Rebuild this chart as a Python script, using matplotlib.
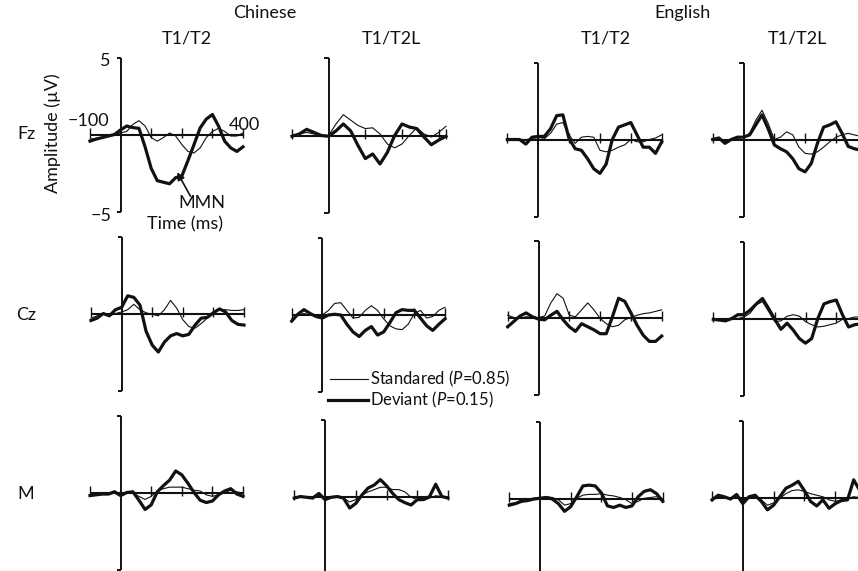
import matplotlib
matplotlib.use('Agg')
import matplotlib.pyplot as plt
from matplotlib.lines import Line2D

W, H = 858, 571
plt.rcParams['font.family'] = ['Lato', 'DejaVu Sans']
plt.rcParams['mathtext.fontset'] = 'custom'
plt.rcParams['mathtext.rm'] = 'Lato'
plt.rcParams['mathtext.it'] = 'Lato:italic'

# ---------------- data (ms, µV) ----------------
times = [-100, -80, -60, -40, -20, 0, 20, 40, 60, 80, 100, 120, 140, 160,
         180, 200, 220, 240, 260, 280, 300, 320, 340, 360, 380, 400]
times_short = [-100, -80, -60, -40, -20, 0, 20, 40, 60, 80, 100, 120, 140,
               160, 180, 200, 220, 240, 260, 280, 300, 320]

fz_cn_t1t2_std = [-0.3, -0.25, -0.2, -0.1, 0, 0.1, 0.2, 0.65, 0.9, 0.55, -0.2, -0.43, -0.2,
                  0.1, -0.1, -0.65, -1.1, -1.2, -0.87, -0.2, 0.2, 0.4, 0.2, -0.1, -0.1, 0.1]
fz_cn_t1t2_dev = [-0.43, -0.3, -0.2, -0.1, 0, 0.3, 0.55, 0.45, 0.4, -0.8, -2.2, -3.0, -3.1,
                  -3.2, -2.8, -2.7, -1.7, -0.65, 0.43, 1.0, 1.3, 0.55, -0.43, -0.87, -1.1, -0.8]
fz_cn_t1t2l_std = [0, 0.1, 0.2, 0.1, 0, 0, 0.75, 1.35, 1.0, 0.65, 0.45, 0.5, 0.1, -0.55,
                   -0.8, -0.55, 0, 0.5, 0.1, -0.1, 0.2, 0.6]
fz_cn_t1t2l_dev = [-0.05, 0.1, 0.4, 0.2, 0, -0.05, 0.3, 0.75, 0.3, -0.65, -1.5, -1.2, -1.85,
                   -1.1, 0, 0.75, 0.55, 0.45, -0.1, -0.6, -0.3, -0.05]
fz_en_t1t2_std = [0.05, 0, 0, 0, 0.05, 0, 0.05, 0.4, 1.0, 1.1, 0.3, -0.25, 0.15, 0.2, 0.15,
                  -0.7, -0.8, -0.7, -0.5, -0.35, 0, -0.15, -0.15, 0, 0.1, 0.3]
fz_en_t1t2_dev = [0, 0, 0, -0.3, 0.15, 0.2, 0.2, 0.7, 1.55, 1.6, 0.05, -0.6, -0.7, -1.25,
                  -1.9, -2.2, -1.6, 0, 0.8, 0.95, 1.1, 0.3, -0.5, -0.5, -0.9, -0.15]
fz_en_t1t2l_std = [0, 0.05, -0.15, 0, 0.1, 0.15, 0.4, 1.25, 1.9, 1.05, 0, 0.15, 0.5, 0.3,
                   -0.5, -0.9, -0.95, -0.8, -0.5, -0.15, 0.15, 0.3, 0.4, 0.3, 0.2, 0.1]
fz_en_t1t2l_dev = [0, 0.1, -0.25, 0, 0.15, 0.15, 0.3, 0.95, 1.6, 0.7, -0.35, -0.6, -0.8,
                   -1.25, -1.9, -2.1, -1.55, -0.25, 0.8, 0.95, 1.15, 0.4, -0.45, -0.6, -0.7, -0.3]

cz_cn_t1t2_std = [-0.25, -0.1, 0, -0.1, 0.05, 0.15, 0.3, 0.65, 0.3, 0.1, 0, -0.1, 0.3, 0.9,
                  0.4, -0.35, -0.8, -0.9, -0.6, -0.25, 0.15, 0.3, 0.3, 0.25, 0.25, 0.3]
cz_cn_t1t2_dev = [-0.4, -0.25, 0.05, -0.1, 0.3, 0.45, 1.2, 1.1, 0.6, -1.1, -2.0, -2.45, -1.8,
                  -1.4, -1.25, -1.4, -1.3, -0.7, -0.25, -0.2, 0.1, 0.35, 0.15, -0.4, -0.65, -0.7]
cz_cn_t1t2l_std = [-0.25, 0, 0.1, 0, 0, 0, 0.3, 0.75, 0.8, 0.3, -0.2, -0.15, 0.3, 0.6, 0.3,
                   -0.25, -0.7, -0.9, -0.95, -0.6, 0.1, 0.3, -0.2, -0.1, 0.3, 0.5]
cz_cn_t1t2l_dev = [-0.4, 0.05, 0.35, 0.1, -0.1, -0.2, 0, 0.05, 0, -0.6, -1.1, -1.4, -1.0,
                   -0.75, -1.3, -1.1, -0.5, 0.15, 0.35, 0.3, 0.3, -0.2, -0.7, -1.0, -0.6, -0.25]
cz_en_t1t2_std = [0.2, 0.05, 0, 0.1, 0.05, 0.05, 0.15, 1.0, 1.6, 1.3, 0.2, 0.1, 0.55, 1.0,
                  0.55, 0, -0.35, -0.55, -0.45, -0.1, 0.05, 0.2, 0.3, 0.35, 0.45, 0.55]
cz_en_t1t2_dev = [-0.55, -0.2, 0.15, 0.35, 0.1, -0.05, -0.1, 0.2, 0.45, -0.1, -0.55, -0.85,
                  -0.35, -0.55, -0.75, -1.0, -1.0, 0.1, 1.3, 1.1, 0.35, -0.45, -1.1, -1.5, -1.5, -1.15]
cz_en_t1t2l_std = [-0.1, 0, 0, 0.05, 0.05, 0.15, 0.4, 0.95, 1.15, 0.5, -0.15, -0.1, 0.2, 0.3,
                   0.2, -0.15, -0.35, -0.5, -0.45, -0.35, -0.25, 0, 0.05, 0.15, 0.15, 0.1]
cz_en_t1t2l_dev = [0, -0.05, -0.1, 0.05, 0.3, 0.3, 0.6, 1.0, 1.35, 0.7, 0, -0.65, -0.25, -0.7,
                   -1.25, -1.55, -1.25, 0.05, 1.0, 1.15, 1.25, 0.3, -0.5, -0.35, -0.3, -0.2]

m_cn_t1t2_std = [-0.1, -0.1, -0.05, -0.05, 0, -0.1, 0.05, 0, -0.2, -0.4, -0.2, 0.15, 0.3, 0.4,
                 0.4, 0.4, 0.3, 0.2, 0.15, -0.1, -0.2, -0.1, 0.05, 0.2, 0.1, 0]
m_cn_t1t2_dev = [-0.15, -0.1, -0.05, -0.05, 0.1, -0.15, 0.05, 0.1, -0.45, -1.05, -0.75, 0.1,
                 0.5, 0.85, 1.45, 1.2, 0.65, 0.05, -0.45, -0.6, -0.5, -0.1, 0.15, 0.3, -0.05, -0.2]
m_cn_t1t2l_std = [-0.05, 0, 0.05, 0.05, 0.1, -0.05, 0.05, 0.05, -0.05, -0.3, -0.15, 0.15, 0.35,
                  0.5, 0.65, 0.65, 0.5, 0.5, 0.35, 0, -0.15, -0.2, -0.05, 0.1, 0.05, 0]
m_cn_t1t2l_dev = [-0.05, 0.05, 0, -0.05, 0.25, -0.15, 0, 0.05, -0.05, -0.7, -0.4, 0.15, 0.6,
                  0.8, 1.15, 0.75, 0.25, -0.15, -0.35, -0.5, -0.15, -0.15, 0.05, 0.85, 0.05, -0.05]
m_en_t1t2_std = [-0.3, -0.25, -0.05, 0, 0.05, 0.05, 0.15, 0.1, -0.05, -0.4, -0.3, 0.05, 0.25,
                 0.3, 0.3, 0.35, 0.25, 0.2, 0.1, -0.05, -0.3, -0.15, 0.05, 0.1, 0.15, 0]
m_en_t1t2_dev = [-0.4, -0.3, -0.15, -0.1, 0, 0.05, 0.1, 0, -0.3, -0.8, -0.5, 0.15, 0.85, 0.9,
                 0.85, 0.4, -0.45, -0.55, -0.4, -0.55, -0.45, 0.15, 0.5, 0.6, 0.35, -0.15]
m_en_t1t2l_std = [-0.05, 0, 0, 0, 0.05, -0.1, 0, 0.05, -0.1, -0.45, -0.3, 0, 0.3, 0.5, 0.55,
                  0.45, 0.3, 0.2, 0.1, -0.1, -0.2, -0.1, 0, 0.1, 0.05, 0]
m_en_t1t2l_dev = [-0.1, 0.2, 0.1, -0.05, 0.25, -0.35, 0.1, 0.2, -0.2, -0.75, -0.45, 0.1, 0.65,
                  0.85, 1.1, 0.5, -0.2, -0.5, -0.1, -0.65, -0.35, -0.15, -0.1, 1.2, 0.5, 0]

languages = ['Chinese', 'English']
conditions = ['T1/T2', 'T1/T2L', 'T1/T2', 'T1/T2L']
electrodes = ['Fz', 'Cz', 'M']
tick_times = [-100, 100, 200, 300]

# ---------------- layout (pixel positions) ----------------
HALF = 77  # pixels from 0 µV to ±5 µV
panels = [
    # times, standard, deviant, left px, right px, zero-line px
    (times, fz_cn_t1t2_std, fz_cn_t1t2_dev, 90, 243, 134.5),
    (times_short, fz_cn_t1t2l_std, fz_cn_t1t2l_dev, 292, 446, 135.5),
    (times, fz_en_t1t2_std, fz_en_t1t2_dev, 507.3, 661.7, 139.5),
    (times, fz_en_t1t2l_std, fz_en_t1t2l_dev, 712.7, 866.7, 139.5),
    (times, cz_cn_t1t2_std, cz_cn_t1t2_dev, 91, 244, 314.3),
    (times, cz_cn_t1t2l_std, cz_cn_t1t2l_dev, 291.7, 445, 315),
    (times, cz_en_t1t2_std, cz_en_t1t2_dev, 507.7, 661.7, 318.3),
    (times, cz_en_t1t2l_std, cz_en_t1t2l_dev, 713.3, 867, 319.3),
    (times, m_cn_t1t2_std, m_cn_t1t2_dev, 90, 243, 493.3),
    (times, m_cn_t1t2l_std, m_cn_t1t2l_dev, 294.3, 448, 497.3),
    (times, m_en_t1t2_std, m_en_t1t2_dev, 509.3, 662.7, 499),
    (times, m_en_t1t2l_std, m_en_t1t2l_dev, 712, 866, 498.3),
]

INK = '#111111'
fig = plt.figure(figsize=(W / 100, H / 100), dpi=100)

axes = []
for t, std, dev, x0, x1, zero in panels:
    ax = fig.add_axes([x0 / W, 1 - (zero + HALF) / H, (x1 - x0) / W, 2 * HALF / H])
    ax.axis('off')
    xmax = t[-1]
    ax.set_xlim(-100, xmax)
    ax.set_ylim(-5, 5)
    kw = dict(color=INK, clip_on=False, solid_capstyle='butt')
    ax.plot([-100, xmax], [0, 0], lw=1.5, **kw)
    ax.vlines(tick_times + [xmax], -0.2, 0.45, lw=1.0, color=INK, clip_on=False)
    ax.plot([0, 0], [-5, 5], lw=1.4, **kw)
    ax.plot([-13, 0], [5, 5], lw=1.4, **kw)
    ax.plot([-13, 0], [-5, -5], lw=1.4, **kw)
    ax.plot(t, std, lw=0.8, color=INK, clip_on=False, solid_joinstyle='round')
    ax.plot(t, dev, lw=2.3, color=INK, clip_on=False, solid_joinstyle='round')
    axes.append(ax)


def ftext(x, y, s, **kw):
    kw.setdefault('ha', 'center')
    kw.setdefault('va', 'center')
    kw.setdefault('fontsize', 13)
    fig.text(x / W, 1 - y / H, s, color=INK, **kw)


ftext(265, 13, languages[0])
ftext(683, 13, languages[1])
for xc, c in zip([187, 391, 606, 797], conditions):
    ftext(xc, 38, c)
for yc, e in zip([134, 315, 494], electrodes):
    ftext(26, yc, e)

ftext(110, 61, '5', ha='right')
ftext(112, 216, '\u22125', ha='right')
ftext(88, 121, '\u2212100')
ftext(244, 125, '400')
ftext(53, 133, 'Amplitude (µV)', rotation=90)
ftext(202, 203, 'MMN')
ftext(185, 224, 'Time (ms)')
axes[0].annotate('', xy=(185, -2.45), xytext=(228, -4.0),
                 arrowprops=dict(arrowstyle='-|>', lw=1.2, color=INK,
                                 mutation_scale=11, shrinkA=0, shrinkB=0))

# legend
fig.add_artist(Line2D([330 / W, 368 / W], [1 - 379 / H] * 2, lw=0.8, color=INK))
fig.add_artist(Line2D([328 / W, 368 / W], [1 - 400 / H] * 2, lw=2.3, color=INK))
ftext(370, 379, r'Standared ($\mathit{P}$=0.85)', ha='left', fontsize=12)
ftext(370, 400, r'Deviant ($\mathit{P}$=0.15)', ha='left', fontsize=12)

fig.savefig('out.png', dpi=100, facecolor='white')
